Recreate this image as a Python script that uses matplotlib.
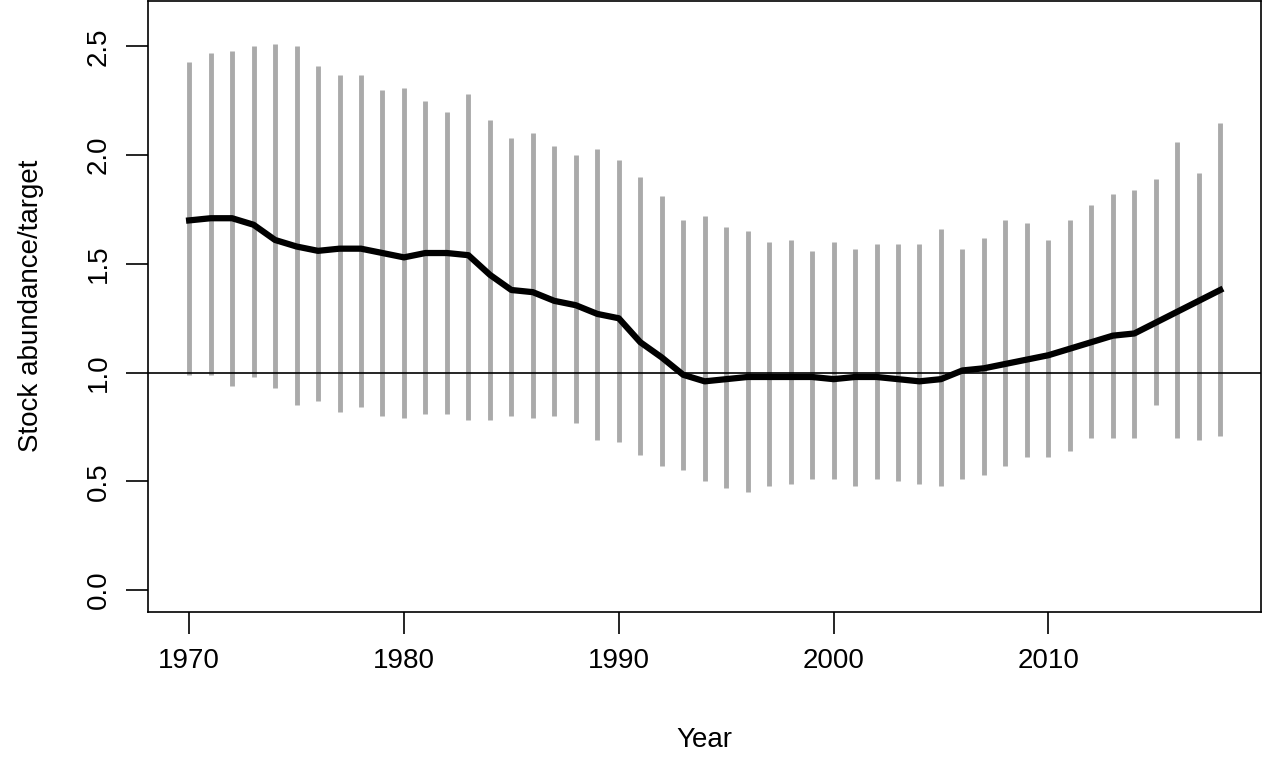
import numpy as np
import matplotlib.pyplot as plt

plt.rcParams["font.family"] = "Liberation Sans"

years = np.arange(1970, 2019)
median = [1.70, 1.71, 1.71, 1.68, 1.61, 1.58, 1.56, 1.57, 1.57, 1.55,
          1.53, 1.55, 1.55, 1.54, 1.45, 1.38, 1.37, 1.33, 1.31, 1.27,
          1.25, 1.14, 1.07, 0.99, 0.96, 0.97, 0.98, 0.98, 0.98, 0.98,
          0.97, 0.98, 0.98, 0.97, 0.96, 0.97, 1.01, 1.02, 1.04, 1.06,
          1.08, 1.11, 1.14, 1.17, 1.18, 1.23, 1.28, 1.33, 1.38]
upper = [2.43, 2.47, 2.48, 2.50, 2.51, 2.50, 2.41, 2.37, 2.37, 2.30,
         2.31, 2.25, 2.20, 2.28, 2.16, 2.08, 2.10, 2.04, 2.00, 2.03,
         1.98, 1.90, 1.81, 1.70, 1.72, 1.67, 1.65, 1.60, 1.61, 1.56,
         1.60, 1.57, 1.59, 1.59, 1.59, 1.66, 1.57, 1.62, 1.70, 1.69,
         1.61, 1.70, 1.77, 1.82, 1.84, 1.89, 2.06, 1.92, 2.15]
lower = [0.99, 0.99, 0.94, 0.98, 0.93, 0.85, 0.87, 0.82, 0.84, 0.80,
         0.79, 0.81, 0.81, 0.78, 0.78, 0.80, 0.79, 0.80, 0.77, 0.69,
         0.68, 0.62, 0.57, 0.55, 0.50, 0.47, 0.45, 0.48, 0.49, 0.51,
         0.51, 0.48, 0.51, 0.50, 0.49, 0.48, 0.51, 0.53, 0.57, 0.61,
         0.61, 0.64, 0.70, 0.70, 0.70, 0.85, 0.70, 0.69, 0.71]

fig = plt.figure(figsize=(12.64, 7.61), dpi=100)
ax = fig.add_axes([0.117, 0.196, 0.881, 0.803])

ax.vlines(years, lower, upper, color="#aaaaaa", lw=3.5)
ax.axhline(1.0, color="black", lw=1.2)
ax.plot(years, median, color="black", lw=4.5)

ax.set_xlim(1968.08, 2019.92)
ax.set_ylim(-0.1, 2.71)
ax.set_xticks([1970, 1980, 1990, 2000, 2010])
ax.set_yticks([0.0, 0.5, 1.0, 1.5, 2.0, 2.5])
ax.set_yticklabels(["0.0", "0.5", "1.0", "1.5", "2.0", "2.5"], rotation=90, va="center")
ax.tick_params(labelsize=20, length=16, width=1.2, pad=10)
for s in ax.spines.values():
    s.set_linewidth(1.2)
ax.set_xlabel("Year", fontsize=20, labelpad=38)
ax.set_ylabel("Stock abundance/target", fontsize=20, labelpad=30)

fig.savefig("out.png", dpi=100)
